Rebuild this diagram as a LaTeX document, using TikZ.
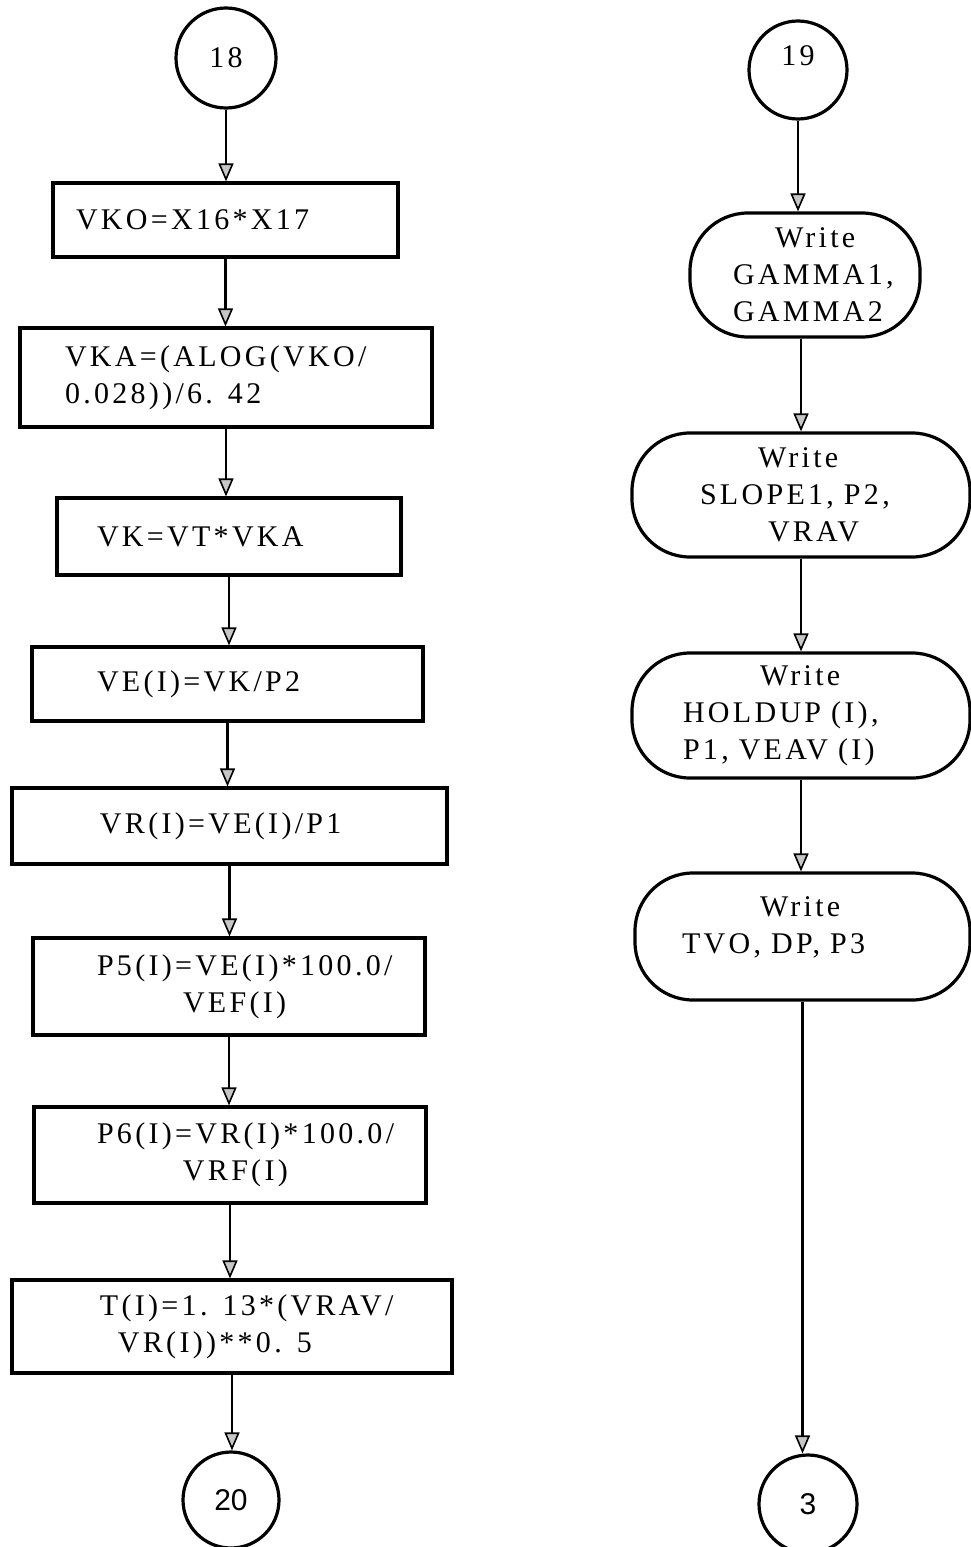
\documentclass[tikz,border=0pt]{standalone}
\usepackage{fontspec}
\setmainfont{Liberation Serif}[LetterSpace=11.0]
\newfontfamily\sansf{Liberation Sans}
\usetikzlibrary{arrows.meta}
\setlength{\parindent}{0pt}
\begin{document}
\begin{tikzpicture}[x=1pt,y=-1pt,
  every node/.style={font=\fontsize{30}{37}\selectfont},
  pbox/.style={draw, line width=3.2pt, inner xsep=0pt, inner ysep=0pt, align=left},
  term/.style={draw, line width=3.2pt, rounded corners=58pt, inner xsep=0pt, inner ysep=0pt, align=left},
  conn/.style={draw, line width=3.2pt, circle, inner sep=0pt},
  arr/.style={line width=2.6pt, -{Triangle[width=15pt,length=18pt,fill=gray!45,line width=1.6pt]}}
]
\useasboundingbox (0,0) rectangle (971,1547);

% left column
\node[conn, minimum size=100pt] (C18) at (226,58) {18};
\node[pbox, minimum width=345pt, minimum height=74pt, text width=345pt] (B1) at (225.5,220)
  {\hspace*{23pt}VKO=X16*X17};
\node[pbox, minimum width=412pt, minimum height=99pt, text width=412pt] (B2) at (226,377.5)
  {\hspace*{45pt}VKA=(ALOG(VKO/\\\hspace*{45pt}0.028))/6. 42};
\node[pbox, minimum width=344pt, minimum height=77pt, text width=344pt] (B3) at (229,536.5)
  {\hspace*{40pt}VK=VT*VKA};
\node[pbox, minimum width=391pt, minimum height=74pt, text width=391pt] (B4) at (227.5,684)
  {\hspace*{65pt}VE(I)=VK/P2};
\node[pbox, minimum width=435pt, minimum height=76pt, text width=435pt] (B5) at (229.5,826)
  {\hspace*{88pt}VR(I)=VE(I)/P1};
\node[pbox, minimum width=392pt, minimum height=97pt, text width=392pt] (B6) at (229,986.5)
  {\hspace*{64pt}P5(I)=VE(I)*100.0/\\\hspace*{150pt}VEF(I)};
\node[pbox, minimum width=392pt, minimum height=96pt, text width=392pt] (B7) at (230,1155)
  {\hspace*{63pt}P6(I)=VR(I)*100.0/\\\hspace*{149pt}VRF(I)};
\node[pbox, minimum width=440pt, minimum height=93pt, text width=440pt] (B8) at (232,1326.5)
  {\hspace*{88pt}T(I)=1. 13*(VRAV/\\\hspace*{106pt}VR(I))**0. 5};
\node[conn, minimum size=96pt] (C20) at (231,1500) {\sansf 20};

\draw[arr] (C18.south) -- (C18.south |- B1.north);
\draw[arr] (B1.south) -- (B1.south |- B2.north);
\draw[arr] (B2.south) -- (B2.south |- B3.north);
\draw[arr] (B3.south) -- (B3.south |- B4.north);
\draw[arr] (B4.south) -- (B4.south |- B5.north);
\draw[arr] (B5.south) -- (B5.south |- B6.north);
\draw[arr] (B6.south) -- (B6.south |- B7.north);
\draw[arr] (B7.south) -- (B7.south |- B8.north);
\draw[arr] (B8.south) -- (B8.south |- C20.north);

% right column
\node[conn, minimum size=98pt] (C19) at (798,70) {\raisebox{5pt}[0pt][0pt]{19}};
\node[term, minimum width=230pt, minimum height=124pt, text width=230pt] (G) at (805,275)
  {\hspace*{85pt}Write\\\hspace*{43pt}GAMMA1,\\\hspace*{43pt}GAMMA2};
\node[term, minimum width=338pt, minimum height=124pt, text width=338pt] (S) at (801,495)
  {\hspace*{126pt}Write\\\hspace*{68pt}SLOPE1, P2,\\\hspace*{136pt}VRAV};
\node[term, minimum width=338pt, minimum height=125pt, text width=338pt] (H) at (801,715.5)
  {\hspace*{128pt}Write\\\hspace*{51pt}HOLDUP (I),\\\hspace*{51pt}P1, VEAV (I)};
\node[term, minimum width=335pt, minimum height=127pt, text width=335pt] (T) at (802.5,936.5)
  {\hspace*{125pt}Write\\\hspace*{47pt}TVO, DP, P3\\[-14pt]\mbox{}};
\node[conn, minimum size=98pt] (C3) at (808,1504) {\sansf 3};

\draw[arr] (C19.south) -- (C19.south |- G.north);
\draw[arr] (S.north |- G.south) -- (S.north);
\draw[arr] (S.south) -- (S.south |- H.north);
\draw[arr] (H.south) -- (H.south |- T.north);
\draw[arr] (T.south) -- (T.south |- C3.north);
\end{tikzpicture}
\end{document}
